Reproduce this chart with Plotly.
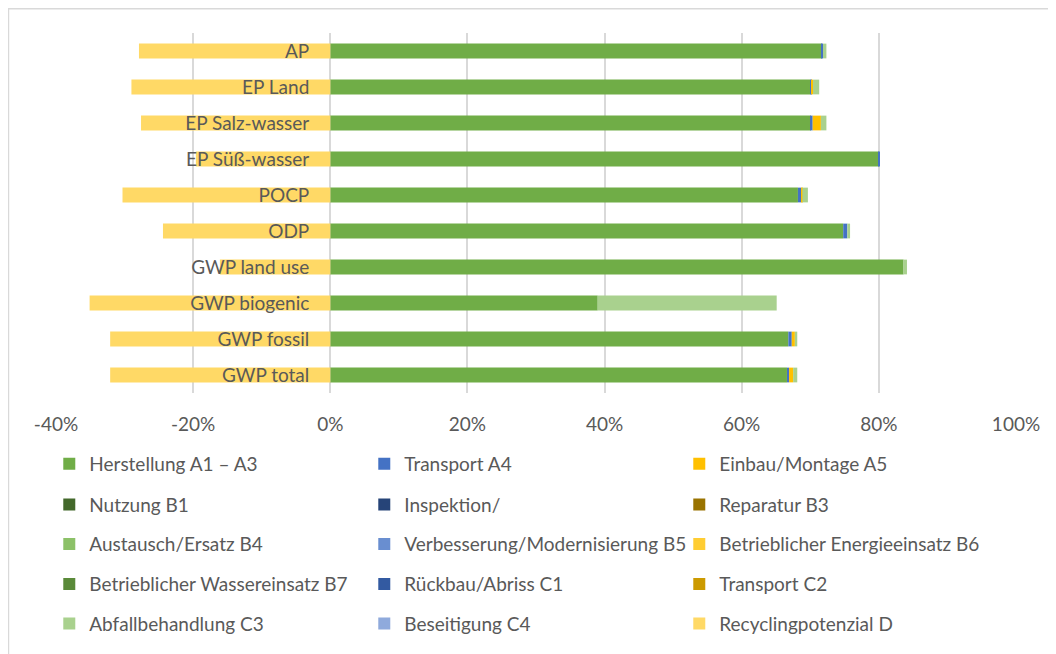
import plotly.graph_objects as go

categories = ["GWP total", "GWP fossil", "GWP biogenic", "GWP land use", "ODP",
              "POCP", "EP Süß-wasser", "EP Salz-wasser", "EP Land", "AP"]

series_names = ["Herstellung A1 – A3", "Transport A4", "Einbau/Montage A5",
                "Nutzung B1", "Inspektion/", "Reparatur B3",
                "Austausch/Ersatz B4", "Verbesserung/Modernisierung B5", "Betrieblicher Energieeinsatz B6",
                "Betrieblicher Wassereinsatz B7", "Rückbau/Abriss C1", "Transport C2",
                "Abfallbehandlung C3", "Beseitigung C4", "Recyclingpotenzial D"]

series_colors = ["#70AD47", "#4472C4", "#FFC000",
                 "#43682B", "#264478", "#997300",
                 "#8CC168", "#698ED0", "#FFCD33",
                 "#5A8A39", "#335AA1", "#CC9A00",
                 "#A9D18E", "#8FAADC", "#FFD966"]

zeros = [0.0] * 10
herstellung_a1_a3 = [66.6, 66.8, 39.0, 83.6, 74.8, 68.2, 80.0, 70.1, 70.0, 71.7]
transport_a4 = [0.3, 0.5, 0.0, 0.0, 0.6, 0.5, 0.15, 0.25, 0.15, 0.15]
einbau_a5 = [0.6, 0.45, 0.0, 0.0, 0.0, 0.15, 0.0, 1.2, 0.25, 0.0]
abfall_c3 = [0.6, 0.35, 26.1, 0.5, 0.4, 0.8, 0.0, 0.8, 0.9, 0.5]
recycling_d = [-32.1, -32.1, -35.1, -16.1, -24.4, -30.3, -19.6, -27.6, -29.0, -27.9]

series_values = [herstellung_a1_a3, transport_a4, einbau_a5,
                 zeros, zeros, zeros,
                 zeros, zeros, zeros,
                 zeros, zeros, zeros,
                 abfall_c3, zeros, recycling_d]

x_tick_vals = [-40, -20, 0, 20, 40, 60, 80, 100]
x_tick_text = ["-40%", "-20%", "0%", "20%", "40%", "60%", "80%", "100%"]

FONT = "Lato, Carlito, 'Open Sans', sans-serif"
GREY = "#595959"
FS = 19

fig = go.Figure()
for i, (name, vals, col) in enumerate(zip(series_names, series_values, series_colors)):
    legend_id = "legend" if i // 3 == 0 else f"legend{i // 3 + 1}"
    fig.add_trace(go.Bar(
        y=categories, x=vals, name=name, orientation="h",
        marker=dict(color=col, line=dict(width=0)),
        legend=legend_id,
        hovertemplate="%{y}: %{x:.1f}%<extra>" + name + "</extra>",
    ))

x_min, x_max = -40, 100
zero_pos = (0 - x_min) / (x_max - x_min)

legend_common = dict(orientation="h", xanchor="left", yanchor="middle",
                     x=-0.007, entrywidth=270, entrywidthmode="pixels",
                     font=dict(family=FONT, size=FS, color=GREY),
                     bgcolor="rgba(0,0,0,0)", traceorder="normal",
                     itemclick=False, itemdoubleclick=False)

row_y = [-0.197, -0.31, -0.42, -0.531, -0.641]
layout_legends = {}
for r in range(5):
    key = "legend" if r == 0 else f"legend{r + 1}"
    layout_legends[key] = dict(legend_common, y=row_y[r])

fig.update_layout(
    barmode="relative",
    bargap=0.59,
    width=1048, height=646,
    margin=dict(l=48, r=40, t=25, b=259),
    paper_bgcolor="white", plot_bgcolor="white",
    font=dict(family=FONT, size=FS, color=GREY),
    showlegend=True,
    xaxis=dict(range=[x_min, x_max], tickvals=x_tick_vals, ticktext=x_tick_text,
               showgrid=True, gridcolor="#D9D9D9", gridwidth=1.5,
               zeroline=False, showline=False, ticks="",
               tickfont=dict(family=FONT, size=FS, color=GREY),
               ticklabelstandoff=18, fixedrange=True),
    yaxis=dict(type="category", categoryorder="array", categoryarray=categories,
               anchor="free", position=zero_pos, side="left",
               showgrid=False, zeroline=False, showline=False, ticks="",
               ticklabelstandoff=21,
               tickfont=dict(family=FONT, size=FS, color=GREY),
               range=[-0.5, len(categories) - 0.5], fixedrange=True),
    shapes=[dict(type="rect", xref="paper", yref="paper",
                 x0=-0.0495, x1=1.5, y0=-1.5, y1=1.0677,
                 line=dict(color="#D9D9D9", width=1.5), fillcolor="rgba(0,0,0,0)",
                 layer="below")],
    **layout_legends,
)

fig.write_html("out.html")
